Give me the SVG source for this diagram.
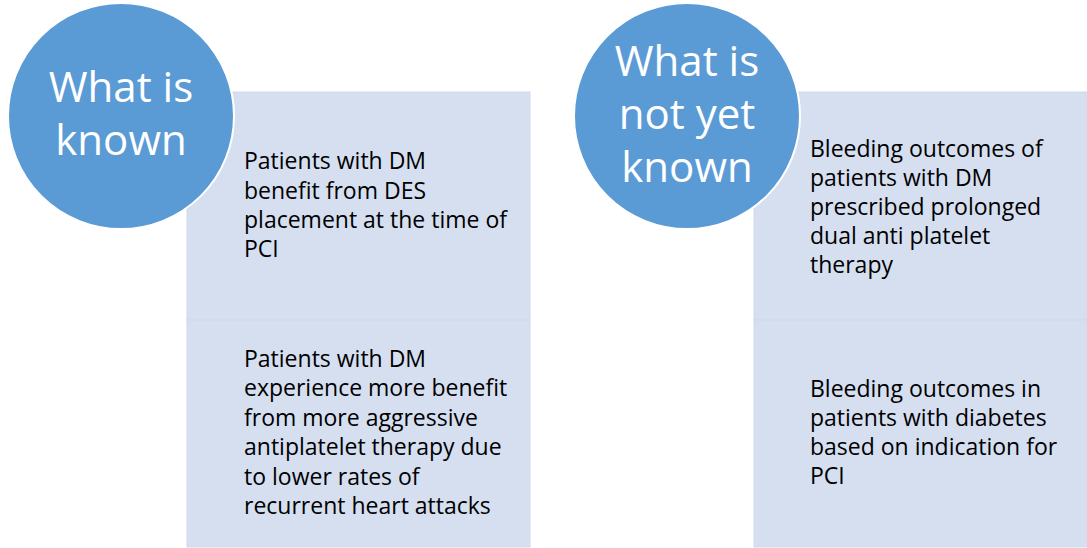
<svg xmlns="http://www.w3.org/2000/svg" width="1087" height="548" viewBox="0 0 1087 548">
<style>
.box{fill:#D5DFF0;stroke:#CFDAEC;stroke-width:1}
.circ{fill:#5B9BD5;stroke:#FFFFFF;stroke-width:2}
.ct{font-family:"Open Sans","Liberation Sans",sans-serif;font-size:42px;fill:#FFFFFF;text-anchor:middle}
.bt{font-family:"Open Sans","Liberation Sans",sans-serif;font-size:23px;fill:#000000}
</style>
<rect width="1087" height="548" fill="#FFFFFF"/>
<g id="known-box-1">
<rect class="box" x="187" y="92" width="343" height="228"/>
<text class="bt"><tspan x="244" y="169">Patients with DM</tspan><tspan x="244" y="199">benefit from DES</tspan><tspan x="244" y="228">placement at the time of</tspan><tspan x="244" y="257">PCI</tspan></text>
</g>
<g id="known-box-2">
<rect class="box" x="187" y="320" width="343" height="227"/>
<text class="bt"><tspan x="244" y="367">Patients with DM</tspan><tspan x="244" y="396">experience more benefit</tspan><tspan x="244" y="426">from more aggressive</tspan><tspan x="244" y="455">antiplatelet therapy due</tspan><tspan x="244" y="485">to lower rates of</tspan><tspan x="244" y="514">recurrent heart attacks</tspan></text>
</g>
<g id="unknown-box-1">
<rect class="box" x="754" y="92" width="334" height="228"/>
<text class="bt"><tspan x="810" y="157">Bleeding outcomes of</tspan><tspan x="810" y="186">patients with DM</tspan><tspan x="810" y="215">prescribed prolonged</tspan><tspan x="810" y="244">dual anti platelet</tspan><tspan x="810" y="273">therapy</tspan></text>
</g>
<g id="unknown-box-2">
<rect class="box" x="754" y="320" width="334" height="227"/>
<text class="bt"><tspan x="810" y="397">Bleeding outcomes in</tspan><tspan x="810" y="426">patients with diabetes</tspan><tspan x="810" y="455">based on indication for</tspan><tspan x="810" y="484">PCI</tspan></text>
</g>
<g id="what-is-known">
<circle class="circ" cx="121" cy="116" r="113"/>
<text class="ct"><tspan x="121" y="102">What is</tspan><tspan x="121" y="155">known</tspan></text>
</g>
<g id="what-is-not-yet-known">
<circle class="circ" cx="687" cy="116" r="113"/>
<text class="ct"><tspan x="687" y="76">What is</tspan><tspan x="687" y="129">not yet</tspan><tspan x="687" y="182">known</tspan></text>
</g>
<g id="connectors"></g>
</svg>
